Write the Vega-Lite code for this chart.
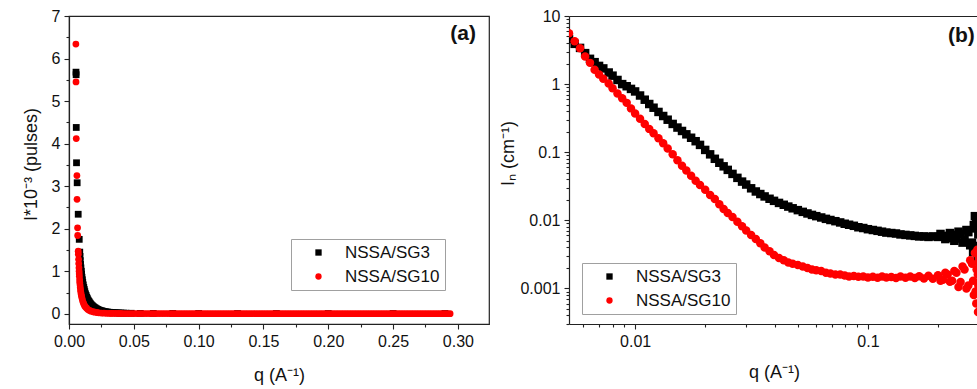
{
 "$schema": "https://vega.github.io/schema/vega-lite/v6.json",
 "padding": {"left": 21, "top": 7, "right": 0, "bottom": 3},
 "spacing": 9,
 "config": {
  "font": "Liberation Sans",
  "view": {"stroke": null},
  "axis": {"labelFont": "Liberation Sans", "titleFont": "Liberation Sans", "labelColor": "#111", "titleColor": "#111", "titleFontWeight": "normal", "labelFontSize": 16, "titleFontSize": 18, "domainColor": "#222", "tickColor": "#222", "domainWidth": 1.2, "tickWidth": 1.1, "grid": false, "labelFlush": false, "labelOverlap": false, "labelPadding": 4},
  "legend": {"labelFont": "Liberation Sans", "labelFontSize": 17, "labelColor": "#111", "strokeColor": "#a0a0a0", "fillColor": "white", "padding": 5, "symbolSize": 40, "symbolStrokeWidth": 0, "symbolOffset": 14, "labelOffset": 18, "rowPadding": 6}
 },
 "datasets": {
  "a": [
   {"s":"NSSA/SG3","q":0.0054,"I":5.68},{"s":"NSSA/SG3","q":0.0055,"I":5.62},{"s":"NSSA/SG3","q":0.0056,"I":4.38},{"s":"NSSA/SG3","q":0.0058,"I":3.55},{"s":"NSSA/SG3","q":0.0063,"I":3.08},{"s":"NSSA/SG3","q":0.0071,"I":2.34},{"s":"NSSA/SG3","q":0.0079,"I":1.75},{"s":"NSSA/SG3","q":0.0083,"I":1.45},{"s":"NSSA/SG3","q":0.0085,"I":1.35},{"s":"NSSA/SG3","q":0.0087,"I":1.25},{"s":"NSSA/SG3","q":0.0089,"I":1.16},{"s":"NSSA/SG3","q":0.0092,"I":1.08},{"s":"NSSA/SG3","q":0.0095,"I":1.0},{"s":"NSSA/SG3","q":0.0097,"I":0.93},{"s":"NSSA/SG3","q":0.01,"I":0.86},{"s":"NSSA/SG3","q":0.0103,"I":0.8},{"s":"NSSA/SG3","q":0.0106,"I":0.74},{"s":"NSSA/SG3","q":0.011,"I":0.68},{"s":"NSSA/SG3","q":0.0114,"I":0.62},{"s":"NSSA/SG3","q":0.0118,"I":0.57},{"s":"NSSA/SG3","q":0.0122,"I":0.52},{"s":"NSSA/SG3","q":0.0127,"I":0.47},{"s":"NSSA/SG3","q":0.0132,"I":0.43},{"s":"NSSA/SG3","q":0.0137,"I":0.39},{"s":"NSSA/SG3","q":0.0142,"I":0.355},{"s":"NSSA/SG3","q":0.0148,"I":0.32},{"s":"NSSA/SG3","q":0.0154,"I":0.29},{"s":"NSSA/SG3","q":0.016,"I":0.26},{"s":"NSSA/SG3","q":0.0166,"I":0.235},{"s":"NSSA/SG3","q":0.0173,"I":0.21},{"s":"NSSA/SG3","q":0.018,"I":0.19},{"s":"NSSA/SG3","q":0.0187,"I":0.17},{"s":"NSSA/SG3","q":0.0195,"I":0.152},{"s":"NSSA/SG3","q":0.0203,"I":0.135},{"s":"NSSA/SG3","q":0.0211,"I":0.12},{"s":"NSSA/SG3","q":0.022,"I":0.105},{"s":"NSSA/SG3","q":0.023,"I":0.092},{"s":"NSSA/SG3","q":0.024,"I":0.08},{"s":"NSSA/SG3","q":0.025,"I":0.071},{"s":"NSSA/SG3","q":0.026,"I":0.062},{"s":"NSSA/SG3","q":0.0272,"I":0.054},{"s":"NSSA/SG3","q":0.0285,"I":0.047},{"s":"NSSA/SG3","q":0.0297,"I":0.041},{"s":"NSSA/SG3","q":0.031,"I":0.036},{"s":"NSSA/SG3","q":0.0325,"I":0.032},{"s":"NSSA/SG3","q":0.034,"I":0.028},{"s":"NSSA/SG3","q":0.0355,"I":0.025},{"s":"NSSA/SG3","q":0.037,"I":0.022},{"s":"NSSA/SG3","q":0.0385,"I":0.02},{"s":"NSSA/SG3","q":0.04,"I":0.018},{"s":"NSSA/SG3","q":0.042,"I":0.016},{"s":"NSSA/SG3","q":0.044,"I":0.014},{"s":"NSSA/SG3","q":0.048,"I":0.012},{"s":"NSSA/SG3","q":0.055,"I":0.01},{"s":"NSSA/SG3","q":0.065,"I":0.009},{"s":"NSSA/SG3","q":0.08,"I":0.008},{"s":"NSSA/SG3","q":0.1,"I":0.007},{"s":"NSSA/SG3","q":0.13,"I":0.006},{"s":"NSSA/SG3","q":0.16,"I":0.006},{"s":"NSSA/SG3","q":0.2,"I":0.006},{"s":"NSSA/SG3","q":0.25,"I":0.006},{"s":"NSSA/SG3","q":0.29,"I":0.006},
   {"s":"NSSA/SG10","q":0.0053,"I":6.34},{"s":"NSSA/SG10","q":0.0054,"I":5.45},{"s":"NSSA/SG10","q":0.0056,"I":4.12},{"s":"NSSA/SG10","q":0.0061,"I":3.25},{"s":"NSSA/SG10","q":0.0062,"I":2.69},{"s":"NSSA/SG10","q":0.0066,"I":2.02},{"s":"NSSA/SG10","q":0.0067,"I":1.84},{"s":"NSSA/SG10","q":0.0071,"I":1.47},{"s":"NSSA/SG10","q":0.0072,"I":1.4},{"s":"NSSA/SG10","q":0.0074,"I":1.28},{"s":"NSSA/SG10","q":0.0075,"I":1.18},{"s":"NSSA/SG10","q":0.0077,"I":1.08},{"s":"NSSA/SG10","q":0.0078,"I":1.0},{"s":"NSSA/SG10","q":0.0079,"I":0.94},{"s":"NSSA/SG10","q":0.008,"I":0.88},{"s":"NSSA/SG10","q":0.0082,"I":0.8},{"s":"NSSA/SG10","q":0.0083,"I":0.74},{"s":"NSSA/SG10","q":0.0085,"I":0.68},{"s":"NSSA/SG10","q":0.0087,"I":0.62},{"s":"NSSA/SG10","q":0.0089,"I":0.56},{"s":"NSSA/SG10","q":0.0091,"I":0.51},{"s":"NSSA/SG10","q":0.0094,"I":0.46},{"s":"NSSA/SG10","q":0.0097,"I":0.41},{"s":"NSSA/SG10","q":0.01,"I":0.37},{"s":"NSSA/SG10","q":0.0104,"I":0.32},{"s":"NSSA/SG10","q":0.0109,"I":0.27},{"s":"NSSA/SG10","q":0.0114,"I":0.23},{"s":"NSSA/SG10","q":0.012,"I":0.19},{"s":"NSSA/SG10","q":0.0127,"I":0.16},{"s":"NSSA/SG10","q":0.0136,"I":0.13},{"s":"NSSA/SG10","q":0.0146,"I":0.1},{"s":"NSSA/SG10","q":0.0158,"I":0.08},{"s":"NSSA/SG10","q":0.017,"I":0.062},{"s":"NSSA/SG10","q":0.0185,"I":0.048},{"s":"NSSA/SG10","q":0.02,"I":0.038},{"s":"NSSA/SG10","q":0.0215,"I":0.03},{"s":"NSSA/SG10","q":0.023,"I":0.024},{"s":"NSSA/SG10","q":0.025,"I":0.018},{"s":"NSSA/SG10","q":0.027,"I":0.014},{"s":"NSSA/SG10","q":0.029,"I":0.011},{"s":"NSSA/SG10","q":0.031,"I":0.009},{"s":"NSSA/SG10","q":0.0325,"I":0.0085},
   {"s":"NSSA/SG10","q":0.034,"I":0.008},{"s":"NSSA/SG10","q":0.036,"I":0.0075},{"s":"NSSA/SG10","q":0.038,"I":0.007},{"s":"NSSA/SG10","q":0.04,"I":0.0065},{"s":"NSSA/SG10","q":0.042,"I":0.006},{"s":"NSSA/SG10","q":0.044,"I":0.006},{"s":"NSSA/SG10","q":0.046,"I":0.006},{"s":"NSSA/SG10","q":0.048,"I":0.0055},{"s":"NSSA/SG10","q":0.05,"I":0.005},{"s":"NSSA/SG10","q":0.052,"I":0.005},{"s":"NSSA/SG10","q":0.054,"I":0.005},{"s":"NSSA/SG10","q":0.056,"I":0.005},{"s":"NSSA/SG10","q":0.058,"I":0.005},{"s":"NSSA/SG10","q":0.06,"I":0.0045},{"s":"NSSA/SG10","q":0.062,"I":0.004},{"s":"NSSA/SG10","q":0.064,"I":0.004},{"s":"NSSA/SG10","q":0.066,"I":0.004},{"s":"NSSA/SG10","q":0.068,"I":0.004},{"s":"NSSA/SG10","q":0.07,"I":0.004},{"s":"NSSA/SG10","q":0.072,"I":0.004},{"s":"NSSA/SG10","q":0.074,"I":0.004},{"s":"NSSA/SG10","q":0.076,"I":0.004},{"s":"NSSA/SG10","q":0.078,"I":0.004},{"s":"NSSA/SG10","q":0.08,"I":0.0035},{"s":"NSSA/SG10","q":0.082,"I":0.003},{"s":"NSSA/SG10","q":0.084,"I":0.003},{"s":"NSSA/SG10","q":0.086,"I":0.003},{"s":"NSSA/SG10","q":0.088,"I":0.003},{"s":"NSSA/SG10","q":0.09,"I":0.003},{"s":"NSSA/SG10","q":0.092,"I":0.003},{"s":"NSSA/SG10","q":0.094,"I":0.003},{"s":"NSSA/SG10","q":0.096,"I":0.003},{"s":"NSSA/SG10","q":0.098,"I":0.003},{"s":"NSSA/SG10","q":0.1,"I":0.003},{"s":"NSSA/SG10","q":0.102,"I":0.003},{"s":"NSSA/SG10","q":0.104,"I":0.003},{"s":"NSSA/SG10","q":0.106,"I":0.003},{"s":"NSSA/SG10","q":0.108,"I":0.003},{"s":"NSSA/SG10","q":0.11,"I":0.003},{"s":"NSSA/SG10","q":0.112,"I":0.003},{"s":"NSSA/SG10","q":0.114,"I":0.003},{"s":"NSSA/SG10","q":0.116,"I":0.003},{"s":"NSSA/SG10","q":0.118,"I":0.003},{"s":"NSSA/SG10","q":0.12,"I":0.003},{"s":"NSSA/SG10","q":0.122,"I":0.003},{"s":"NSSA/SG10","q":0.124,"I":0.003},{"s":"NSSA/SG10","q":0.126,"I":0.003},{"s":"NSSA/SG10","q":0.128,"I":0.003},{"s":"NSSA/SG10","q":0.13,"I":0.003},{"s":"NSSA/SG10","q":0.132,"I":0.003},{"s":"NSSA/SG10","q":0.134,"I":0.003},{"s":"NSSA/SG10","q":0.136,"I":0.003},{"s":"NSSA/SG10","q":0.138,"I":0.003},{"s":"NSSA/SG10","q":0.14,"I":0.003},{"s":"NSSA/SG10","q":0.142,"I":0.003},{"s":"NSSA/SG10","q":0.144,"I":0.003},{"s":"NSSA/SG10","q":0.146,"I":0.003},{"s":"NSSA/SG10","q":0.148,"I":0.003},{"s":"NSSA/SG10","q":0.15,"I":0.003},{"s":"NSSA/SG10","q":0.152,"I":0.003},{"s":"NSSA/SG10","q":0.154,"I":0.003},{"s":"NSSA/SG10","q":0.156,"I":0.003},{"s":"NSSA/SG10","q":0.158,"I":0.003},{"s":"NSSA/SG10","q":0.16,"I":0.003},{"s":"NSSA/SG10","q":0.162,"I":0.003},{"s":"NSSA/SG10","q":0.164,"I":0.003},{"s":"NSSA/SG10","q":0.166,"I":0.003},{"s":"NSSA/SG10","q":0.168,"I":0.003},{"s":"NSSA/SG10","q":0.17,"I":0.003},{"s":"NSSA/SG10","q":0.172,"I":0.003},{"s":"NSSA/SG10","q":0.174,"I":0.003},{"s":"NSSA/SG10","q":0.176,"I":0.003},{"s":"NSSA/SG10","q":0.178,"I":0.003},{"s":"NSSA/SG10","q":0.18,"I":0.003},{"s":"NSSA/SG10","q":0.182,"I":0.003},{"s":"NSSA/SG10","q":0.184,"I":0.003},{"s":"NSSA/SG10","q":0.186,"I":0.003},{"s":"NSSA/SG10","q":0.188,"I":0.003},{"s":"NSSA/SG10","q":0.19,"I":0.003},{"s":"NSSA/SG10","q":0.192,"I":0.003},{"s":"NSSA/SG10","q":0.194,"I":0.003},{"s":"NSSA/SG10","q":0.196,"I":0.003},{"s":"NSSA/SG10","q":0.198,"I":0.003},{"s":"NSSA/SG10","q":0.2,"I":0.003},{"s":"NSSA/SG10","q":0.202,"I":0.003},{"s":"NSSA/SG10","q":0.204,"I":0.003},{"s":"NSSA/SG10","q":0.206,"I":0.003},{"s":"NSSA/SG10","q":0.208,"I":0.003},{"s":"NSSA/SG10","q":0.21,"I":0.003},{"s":"NSSA/SG10","q":0.212,"I":0.003},{"s":"NSSA/SG10","q":0.214,"I":0.003},{"s":"NSSA/SG10","q":0.216,"I":0.003},{"s":"NSSA/SG10","q":0.218,"I":0.003},{"s":"NSSA/SG10","q":0.22,"I":0.003},{"s":"NSSA/SG10","q":0.222,"I":0.003},{"s":"NSSA/SG10","q":0.224,"I":0.003},{"s":"NSSA/SG10","q":0.226,"I":0.003},{"s":"NSSA/SG10","q":0.228,"I":0.003},{"s":"NSSA/SG10","q":0.23,"I":0.003},{"s":"NSSA/SG10","q":0.232,"I":0.003},{"s":"NSSA/SG10","q":0.234,"I":0.003},{"s":"NSSA/SG10","q":0.236,"I":0.003},{"s":"NSSA/SG10","q":0.238,"I":0.003},{"s":"NSSA/SG10","q":0.24,"I":0.003},{"s":"NSSA/SG10","q":0.242,"I":0.003},{"s":"NSSA/SG10","q":0.244,"I":0.003},{"s":"NSSA/SG10","q":0.246,"I":0.003},{"s":"NSSA/SG10","q":0.248,"I":0.003},{"s":"NSSA/SG10","q":0.25,"I":0.003},{"s":"NSSA/SG10","q":0.252,"I":0.003},{"s":"NSSA/SG10","q":0.254,"I":0.003},{"s":"NSSA/SG10","q":0.256,"I":0.003},{"s":"NSSA/SG10","q":0.258,"I":0.003},{"s":"NSSA/SG10","q":0.26,"I":0.003},{"s":"NSSA/SG10","q":0.262,"I":0.003},{"s":"NSSA/SG10","q":0.264,"I":0.003},{"s":"NSSA/SG10","q":0.266,"I":0.003},{"s":"NSSA/SG10","q":0.268,"I":0.003},{"s":"NSSA/SG10","q":0.27,"I":0.003},{"s":"NSSA/SG10","q":0.272,"I":0.003},{"s":"NSSA/SG10","q":0.274,"I":0.003},{"s":"NSSA/SG10","q":0.276,"I":0.003},{"s":"NSSA/SG10","q":0.278,"I":0.003},{"s":"NSSA/SG10","q":0.28,"I":0.003},{"s":"NSSA/SG10","q":0.282,"I":0.003},{"s":"NSSA/SG10","q":0.284,"I":0.003},{"s":"NSSA/SG10","q":0.286,"I":0.003},{"s":"NSSA/SG10","q":0.288,"I":0.003},{"s":"NSSA/SG10","q":0.29,"I":0.003},{"s":"NSSA/SG10","q":0.292,"I":0.003},{"s":"NSSA/SG10","q":0.294,"I":0.003}
  ],
  "b": [
   {"s":"NSSA/SG3","q":0.0052,"In":4.6},{"s":"NSSA/SG3","q":0.0055,"In":3.9},{"s":"NSSA/SG3","q":0.0058,"In":3.4},{"s":"NSSA/SG3","q":0.0061,"In":2.85},{"s":"NSSA/SG3","q":0.0064,"In":2.35},{"s":"NSSA/SG3","q":0.0067,"In":2.1},{"s":"NSSA/SG3","q":0.007,"In":1.85},{"s":"NSSA/SG3","q":0.0073,"In":1.7},{"s":"NSSA/SG3","q":0.0077,"In":1.48},{"s":"NSSA/SG3","q":0.008,"In":1.33},{"s":"NSSA/SG3","q":0.0084,"In":1.15},{"s":"NSSA/SG3","q":0.0088,"In":1.0},{"s":"NSSA/SG3","q":0.0092,"In":0.93},{"s":"NSSA/SG3","q":0.0096,"In":0.85},{"s":"NSSA/SG3","q":0.01,"In":0.78},{"s":"NSSA/SG3","q":0.0105,"In":0.68},{"s":"NSSA/SG3","q":0.011,"In":0.59},{"s":"NSSA/SG3","q":0.0115,"In":0.51},{"s":"NSSA/SG3","q":0.012,"In":0.45},{"s":"NSSA/SG3","q":0.0126,"In":0.39},{"s":"NSSA/SG3","q":0.0132,"In":0.34},{"s":"NSSA/SG3","q":0.0138,"In":0.3},{"s":"NSSA/SG3","q":0.0145,"In":0.26},{"s":"NSSA/SG3","q":0.0152,"In":0.23},{"s":"NSSA/SG3","q":0.0159,"In":0.205},{"s":"NSSA/SG3","q":0.0166,"In":0.183},{"s":"NSSA/SG3","q":0.0174,"In":0.163},{"s":"NSSA/SG3","q":0.0182,"In":0.145},{"s":"NSSA/SG3","q":0.019,"In":0.128},{"s":"NSSA/SG3","q":0.02,"In":0.108},{"s":"NSSA/SG3","q":0.021,"In":0.093},{"s":"NSSA/SG3","q":0.022,"In":0.08},{"s":"NSSA/SG3","q":0.023,"In":0.07},{"s":"NSSA/SG3","q":0.024,"In":0.062},{"s":"NSSA/SG3","q":0.025,"In":0.055},{"s":"NSSA/SG3","q":0.0262,"In":0.048},{"s":"NSSA/SG3","q":0.0275,"In":0.042},{"s":"NSSA/SG3","q":0.0288,"In":0.037},{"s":"NSSA/SG3","q":0.03,"In":0.0335},{"s":"NSSA/SG3","q":0.0315,"In":0.0295},{"s":"NSSA/SG3","q":0.033,"In":0.0265},{"s":"NSSA/SG3","q":0.0345,"In":0.0243},{"s":"NSSA/SG3","q":0.036,"In":0.0224},{"s":"NSSA/SG3","q":0.0378,"In":0.0207},{"s":"NSSA/SG3","q":0.0395,"In":0.0193},{"s":"NSSA/SG3","q":0.0415,"In":0.018},{"s":"NSSA/SG3","q":0.0435,"In":0.0169},{"s":"NSSA/SG3","q":0.0455,"In":0.0159},{"s":"NSSA/SG3","q":0.0475,"In":0.015},{"s":"NSSA/SG3","q":0.05,"In":0.0141},{"s":"NSSA/SG3","q":0.0525,"In":0.0133},{"s":"NSSA/SG3","q":0.055,"In":0.0126},{"s":"NSSA/SG3","q":0.0575,"In":0.012},{"s":"NSSA/SG3","q":0.06,"In":0.0115},{"s":"NSSA/SG3","q":0.063,"In":0.011},{"s":"NSSA/SG3","q":0.066,"In":0.0105},{"s":"NSSA/SG3","q":0.069,"In":0.0101},{"s":"NSSA/SG3","q":0.0725,"In":0.0097},{"s":"NSSA/SG3","q":0.076,"In":0.0093},{"s":"NSSA/SG3","q":0.0795,"In":0.0089},{"s":"NSSA/SG3","q":0.083,"In":0.0086},{"s":"NSSA/SG3","q":0.087,"In":0.0083},{"s":"NSSA/SG3","q":0.091,"In":0.0079},{"s":"NSSA/SG3","q":0.0955,"In":0.0077},{"s":"NSSA/SG3","q":0.1,"In":0.0074},{"s":"NSSA/SG3","q":0.105,"In":0.0072},{"s":"NSSA/SG3","q":0.11,"In":0.007},{"s":"NSSA/SG3","q":0.115,"In":0.0068},{"s":"NSSA/SG3","q":0.12,"In":0.0066},{"s":"NSSA/SG3","q":0.126,"In":0.0065},{"s":"NSSA/SG3","q":0.132,"In":0.0064},{"s":"NSSA/SG3","q":0.138,"In":0.0062},{"s":"NSSA/SG3","q":0.145,"In":0.0061},{"s":"NSSA/SG3","q":0.152,"In":0.006},{"s":"NSSA/SG3","q":0.159,"In":0.0059},{"s":"NSSA/SG3","q":0.166,"In":0.0058},{"s":"NSSA/SG3","q":0.174,"In":0.0058},{"s":"NSSA/SG3","q":0.182,"In":0.0057},{"s":"NSSA/SG3","q":0.19,"In":0.0058},{"s":"NSSA/SG3","q":0.2,"In":0.0057},{"s":"NSSA/SG3","q":0.21,"In":0.0059},{"s":"NSSA/SG3","q":0.22,"In":0.0055},{"s":"NSSA/SG3","q":0.23,"In":0.0061},{"s":"NSSA/SG3","q":0.24,"In":0.0054},{"s":"NSSA/SG3","q":0.25,"In":0.0063},{"s":"NSSA/SG3","q":0.26,"In":0.0051},{"s":"NSSA/SG3","q":0.27,"In":0.0067},{"s":"NSSA/SG3","q":0.28,"In":0.0047},{"s":"NSSA/SG3","q":0.29,"In":0.0076},{"s":"NSSA/SG3","q":0.3,"In":0.0042},
   {"s":"NSSA/SG3","q":0.205,"In":0.0063},{"s":"NSSA/SG3","q":0.215,"In":0.0053},{"s":"NSSA/SG3","q":0.225,"In":0.0065},{"s":"NSSA/SG3","q":0.235,"In":0.005},{"s":"NSSA/SG3","q":0.245,"In":0.0068},{"s":"NSSA/SG3","q":0.255,"In":0.0047},{"s":"NSSA/SG3","q":0.265,"In":0.0072},{"s":"NSSA/SG3","q":0.275,"In":0.0043},{"s":"NSSA/SG3","q":0.285,"In":0.0085},{"s":"NSSA/SG3","q":0.295,"In":0.0037},{"s":"NSSA/SG3","q":0.288,"In":0.0115},{"s":"NSSA/SG3","q":0.292,"In":0.0095},{"s":"NSSA/SG3","q":0.296,"In":0.0028},{"s":"NSSA/SG3","q":0.283,"In":0.0034},{"s":"NSSA/SG3","q":0.298,"In":0.0062},
   {"s":"NSSA/SG10","q":0.0052,"In":5.6},{"s":"NSSA/SG10","q":0.0055,"In":4.25},{"s":"NSSA/SG10","q":0.0058,"In":3.35},{"s":"NSSA/SG10","q":0.0061,"In":2.55},{"s":"NSSA/SG10","q":0.0064,"In":2.05},{"s":"NSSA/SG10","q":0.0067,"In":1.62},{"s":"NSSA/SG10","q":0.007,"In":1.38},{"s":"NSSA/SG10","q":0.0073,"In":1.2},{"s":"NSSA/SG10","q":0.0077,"In":1.02},{"s":"NSSA/SG10","q":0.008,"In":0.87},{"s":"NSSA/SG10","q":0.0084,"In":0.73},{"s":"NSSA/SG10","q":0.0088,"In":0.62},{"s":"NSSA/SG10","q":0.0092,"In":0.53},{"s":"NSSA/SG10","q":0.0096,"In":0.44},{"s":"NSSA/SG10","q":0.01,"In":0.37},{"s":"NSSA/SG10","q":0.0105,"In":0.31},{"s":"NSSA/SG10","q":0.011,"In":0.26},{"s":"NSSA/SG10","q":0.0115,"In":0.22},{"s":"NSSA/SG10","q":0.012,"In":0.19},{"s":"NSSA/SG10","q":0.0126,"In":0.16},{"s":"NSSA/SG10","q":0.0132,"In":0.135},{"s":"NSSA/SG10","q":0.0138,"In":0.113},{"s":"NSSA/SG10","q":0.0145,"In":0.093},{"s":"NSSA/SG10","q":0.0152,"In":0.076},{"s":"NSSA/SG10","q":0.0159,"In":0.063},{"s":"NSSA/SG10","q":0.0166,"In":0.054},{"s":"NSSA/SG10","q":0.0174,"In":0.045},{"s":"NSSA/SG10","q":0.0182,"In":0.038},{"s":"NSSA/SG10","q":0.019,"In":0.033},{"s":"NSSA/SG10","q":0.02,"In":0.028},{"s":"NSSA/SG10","q":0.021,"In":0.0235},{"s":"NSSA/SG10","q":0.022,"In":0.0205},{"s":"NSSA/SG10","q":0.023,"In":0.0172},{"s":"NSSA/SG10","q":0.024,"In":0.0147},{"s":"NSSA/SG10","q":0.025,"In":0.0128},{"s":"NSSA/SG10","q":0.0262,"In":0.0112},{"s":"NSSA/SG10","q":0.0275,"In":0.0095},{"s":"NSSA/SG10","q":0.0288,"In":0.0082},{"s":"NSSA/SG10","q":0.03,"In":0.0071},{"s":"NSSA/SG10","q":0.0315,"In":0.0061},{"s":"NSSA/SG10","q":0.033,"In":0.0053},{"s":"NSSA/SG10","q":0.0345,"In":0.0046},{"s":"NSSA/SG10","q":0.036,"In":0.004},{"s":"NSSA/SG10","q":0.0378,"In":0.0035},{"s":"NSSA/SG10","q":0.0395,"In":0.0031},{"s":"NSSA/SG10","q":0.0415,"In":0.0028},{"s":"NSSA/SG10","q":0.0435,"In":0.0026},{"s":"NSSA/SG10","q":0.0455,"In":0.0024},{"s":"NSSA/SG10","q":0.0475,"In":0.0023},{"s":"NSSA/SG10","q":0.05,"In":0.0022},{"s":"NSSA/SG10","q":0.0525,"In":0.0021},{"s":"NSSA/SG10","q":0.055,"In":0.002},{"s":"NSSA/SG10","q":0.0575,"In":0.0019},{"s":"NSSA/SG10","q":0.06,"In":0.00185},{"s":"NSSA/SG10","q":0.063,"In":0.0018},{"s":"NSSA/SG10","q":0.066,"In":0.0017},{"s":"NSSA/SG10","q":0.069,"In":0.00165},{"s":"NSSA/SG10","q":0.0725,"In":0.0016},{"s":"NSSA/SG10","q":0.076,"In":0.0016},{"s":"NSSA/SG10","q":0.0795,"In":0.00155},{"s":"NSSA/SG10","q":0.083,"In":0.0015},{"s":"NSSA/SG10","q":0.087,"In":0.00152},{"s":"NSSA/SG10","q":0.091,"In":0.00148},{"s":"NSSA/SG10","q":0.0955,"In":0.0015},{"s":"NSSA/SG10","q":0.1,"In":0.00145},{"s":"NSSA/SG10","q":0.105,"In":0.00148},{"s":"NSSA/SG10","q":0.11,"In":0.00143},{"s":"NSSA/SG10","q":0.115,"In":0.0015},{"s":"NSSA/SG10","q":0.12,"In":0.00144},{"s":"NSSA/SG10","q":0.126,"In":0.00147},{"s":"NSSA/SG10","q":0.132,"In":0.00142},{"s":"NSSA/SG10","q":0.138,"In":0.0015},{"s":"NSSA/SG10","q":0.145,"In":0.00143},{"s":"NSSA/SG10","q":0.152,"In":0.00149},{"s":"NSSA/SG10","q":0.159,"In":0.00142},{"s":"NSSA/SG10","q":0.166,"In":0.00151},{"s":"NSSA/SG10","q":0.174,"In":0.0014},{"s":"NSSA/SG10","q":0.182,"In":0.00153},{"s":"NSSA/SG10","q":0.19,"In":0.00139},{"s":"NSSA/SG10","q":0.2,"In":0.00156},{"s":"NSSA/SG10","q":0.21,"In":0.00134},{"s":"NSSA/SG10","q":0.22,"In":0.0016},{"s":"NSSA/SG10","q":0.23,"In":0.0013},{"s":"NSSA/SG10","q":0.24,"In":0.0017},{"s":"NSSA/SG10","q":0.25,"In":0.00124},{"s":"NSSA/SG10","q":0.26,"In":0.0019},{"s":"NSSA/SG10","q":0.27,"In":0.0011},{"s":"NSSA/SG10","q":0.28,"In":0.0023},{"s":"NSSA/SG10","q":0.29,"In":0.0009},{"s":"NSSA/SG10","q":0.3,"In":0.0028},
   {"s":"NSSA/SG10","q":0.205,"In":0.0013},{"s":"NSSA/SG10","q":0.215,"In":0.0017},{"s":"NSSA/SG10","q":0.225,"In":0.00125},{"s":"NSSA/SG10","q":0.235,"In":0.0018},{"s":"NSSA/SG10","q":0.245,"In":0.00105},{"s":"NSSA/SG10","q":0.255,"In":0.0021},{"s":"NSSA/SG10","q":0.265,"In":0.001},{"s":"NSSA/SG10","q":0.275,"In":0.0026},{"s":"NSSA/SG10","q":0.285,"In":0.0008},{"s":"NSSA/SG10","q":0.288,"In":0.0033},{"s":"NSSA/SG10","q":0.292,"In":0.0006},{"s":"NSSA/SG10","q":0.295,"In":0.0037},{"s":"NSSA/SG10","q":0.297,"In":0.00045},{"s":"NSSA/SG10","q":0.283,"In":0.0013},{"s":"NSSA/SG10","q":0.293,"In":0.0019},{"s":"NSSA/SG10","q":0.298,"In":0.0011},{"s":"NSSA/SG10","q":0.2985,"In":0.0024},{"s":"NSSA/SG10","q":0.2965,"In":0.0016}
  ]
 },
 "resolve": {"scale": {"color": "independent", "shape": "independent"}, "legend": {"color": "independent", "shape": "independent"}},
 "hconcat": [
  {
   "width": 420, "height": 308,
   "view": {"stroke": "#222", "strokeWidth": 1.2},
   "layer": [
    {
     "data": {"name": "a"},
     "mark": {"type": "point", "filled": true, "size": 46, "opacity": 1, "strokeWidth": 0},
     "encoding": {
      "x": {"field": "q", "type": "quantitative", "title": "q (A⁻¹)", "scale": {"domain": [0, 0.324], "nice": false, "zero": false},
            "axis": {"title": "q (A⁻¹)", "values": [0,0.025,0.05,0.075,0.1,0.125,0.15,0.175,0.2,0.225,0.25,0.275,0.3],
                     "labelExpr": "abs(datum.value*20 - round(datum.value*20)) < 0.001 ? format(datum.value, '.2f') : ''",
                     "tickSize": {"condition": {"test": "abs(datum.value*20 - round(datum.value*20)) < 0.001", "value": 5}, "value": 3},
                     "titleY": 51, "titleBaseline": "middle"}},
      "y": {"field": "I", "type": "quantitative", "title": "I*10⁻³ (pulses)", "scale": {"domain": [-0.24, 7], "nice": false, "zero": false},
            "axis": {"title": "I*10⁻³ (pulses)", "values": [0,0.5,1,1.5,2,2.5,3,3.5,4,4.5,5,5.5,6,6.5,7],
                     "labelExpr": "abs(datum.value - round(datum.value)) < 0.001 ? format(datum.value, '.0f') : ''",
                     "tickSize": {"condition": {"test": "abs(datum.value - round(datum.value)) < 0.001", "value": 5}, "value": 3},
                     "titleX": -38, "titleY": 148, "titleBaseline": "middle"}},
      "color": {"field": "s", "type": "nominal", "scale": {"domain": ["NSSA/SG3", "NSSA/SG10"], "range": ["#000000", "#ff0000"]},
                "legend": {"title": null, "orient": "none", "legendX": 222, "legendY": 223}},
      "shape": {"field": "s", "type": "nominal", "scale": {"domain": ["NSSA/SG3", "NSSA/SG10"], "range": ["square", "circle"]},
                "legend": {"title": null, "orient": "none", "legendX": 222, "legendY": 223}}
     }
    },
    {
     "data": {"values": [{}]},
     "mark": {"type": "text", "text": "(a)", "fontWeight": "bold", "fontSize": 21, "font": "Liberation Sans", "color": "#111", "baseline": "middle", "align": "center"},
     "encoding": {
      "x": {"datum": 0.304, "type": "quantitative", "title": "q (A⁻¹)", "scale": {"domain": [0, 0.324], "nice": false, "zero": false},
            "axis": {"title": "q (A⁻¹)", "values": [0,0.025,0.05,0.075,0.1,0.125,0.15,0.175,0.2,0.225,0.25,0.275,0.3],
                     "labelExpr": "abs(datum.value*20 - round(datum.value*20)) < 0.001 ? format(datum.value, '.2f') : ''",
                     "tickSize": {"condition": {"test": "abs(datum.value*20 - round(datum.value*20)) < 0.001", "value": 5}, "value": 3},
                     "titleY": 51, "titleBaseline": "middle"}},
      "y": {"datum": 6.57, "type": "quantitative", "title": "I*10⁻³ (pulses)", "scale": {"domain": [-0.24, 7], "nice": false, "zero": false},
            "axis": {"title": "I*10⁻³ (pulses)", "values": [0,0.5,1,1.5,2,2.5,3,3.5,4,4.5,5,5.5,6,6.5,7],
                     "labelExpr": "abs(datum.value - round(datum.value)) < 0.001 ? format(datum.value, '.0f') : ''",
                     "tickSize": {"condition": {"test": "abs(datum.value - round(datum.value)) < 0.001", "value": 5}, "value": 3},
                     "titleX": -38, "titleY": 148, "titleBaseline": "middle"}}
     }
    }
   ]
  },
  {
   "width": 410, "height": 308,
   "resolve": {"axis": {"x": "independent"}},
   "layer": [
    {
     "data": {"name": "b"},
     "mark": {"type": "point", "filled": true, "size": 72, "opacity": 1, "strokeWidth": 0, "clip": true},
     "encoding": {
      "x": {"field": "q", "type": "quantitative", "title": "q (A⁻¹)", "scale": {"type": "log", "domain": [0.0052, 0.3], "nice": false},
            "axis": {"title": "q (A⁻¹)", "values": [0.006,0.007,0.008,0.009,0.01,0.02,0.03,0.04,0.05,0.06,0.07,0.08,0.09,0.1,0.2],
                     "labelExpr": "abs(log(datum.value)/LN10 - round(log(datum.value)/LN10)) < 0.001 ? format(datum.value, '~g') : ''",
                     "tickSize": {"condition": {"test": "abs(log(datum.value)/LN10 - round(log(datum.value)/LN10)) < 0.001", "value": 5}, "value": 3},
                     "titleY": 48, "titleBaseline": "middle"}},
      "y": {"field": "In", "type": "quantitative", "title": "Iₙ (cm⁻¹)", "scale": {"type": "log", "domain": [0.0003, 10], "nice": false},
            "axis": {"title": "Iₙ (cm⁻¹)", "values": [0.0003,0.0004,0.0005,0.0006,0.0007,0.0008,0.0009,0.001,0.002,0.003,0.004,0.005,0.006,0.007,0.008,0.009,0.01,0.02,0.03,0.04,0.05,0.06,0.07,0.08,0.09,0.1,0.2,0.3,0.4,0.5,0.6,0.7,0.8,0.9,1,2,3,4,5,6,7,8,9,10],
                     "labelExpr": "abs(log(datum.value)/LN10 - round(log(datum.value)/LN10)) < 0.001 ? format(datum.value, '~g') : ''",
                     "tickSize": {"condition": {"test": "abs(log(datum.value)/LN10 - round(log(datum.value)/LN10)) < 0.001", "value": 5}, "value": 3},
                     "titleX": -61, "titleY": 137, "titleBaseline": "middle"}},
      "color": {"field": "s", "type": "nominal", "scale": {"domain": ["NSSA/SG3", "NSSA/SG10"], "range": ["#000000", "#ff0000"]},
                "legend": {"title": null, "orient": "none", "legendX": 13, "legendY": 247}},
      "shape": {"field": "s", "type": "nominal", "scale": {"domain": ["NSSA/SG3", "NSSA/SG10"], "range": ["square", "circle"]},
                "legend": {"title": null, "orient": "none", "legendX": 13, "legendY": 247}}
     }
    },
    {
     "data": {"values": [{}]},
     "mark": {"type": "text", "text": "(b)", "fontWeight": "bold", "fontSize": 21, "font": "Liberation Sans", "color": "#111", "baseline": "middle", "align": "center", "clip": true},
     "encoding": {
      "x": {"datum": 0.252, "type": "quantitative", "scale": {"type": "log", "domain": [0.0052, 0.3], "nice": false},
            "axis": {"orient": "top", "labels": false, "ticks": false, "title": null, "domain": true}},
      "y": {"datum": 5.06, "type": "quantitative", "title": "Iₙ (cm⁻¹)", "scale": {"type": "log", "domain": [0.0003, 10], "nice": false},
            "axis": {"title": "Iₙ (cm⁻¹)", "values": [0.0003,0.0004,0.0005,0.0006,0.0007,0.0008,0.0009,0.001,0.002,0.003,0.004,0.005,0.006,0.007,0.008,0.009,0.01,0.02,0.03,0.04,0.05,0.06,0.07,0.08,0.09,0.1,0.2,0.3,0.4,0.5,0.6,0.7,0.8,0.9,1,2,3,4,5,6,7,8,9,10],
                     "labelExpr": "abs(log(datum.value)/LN10 - round(log(datum.value)/LN10)) < 0.001 ? format(datum.value, '~g') : ''",
                     "tickSize": {"condition": {"test": "abs(log(datum.value)/LN10 - round(log(datum.value)/LN10)) < 0.001", "value": 5}, "value": 3},
                     "titleX": -61, "titleY": 137, "titleBaseline": "middle"}}
     }
    }
   ]
  }
 ]
}
